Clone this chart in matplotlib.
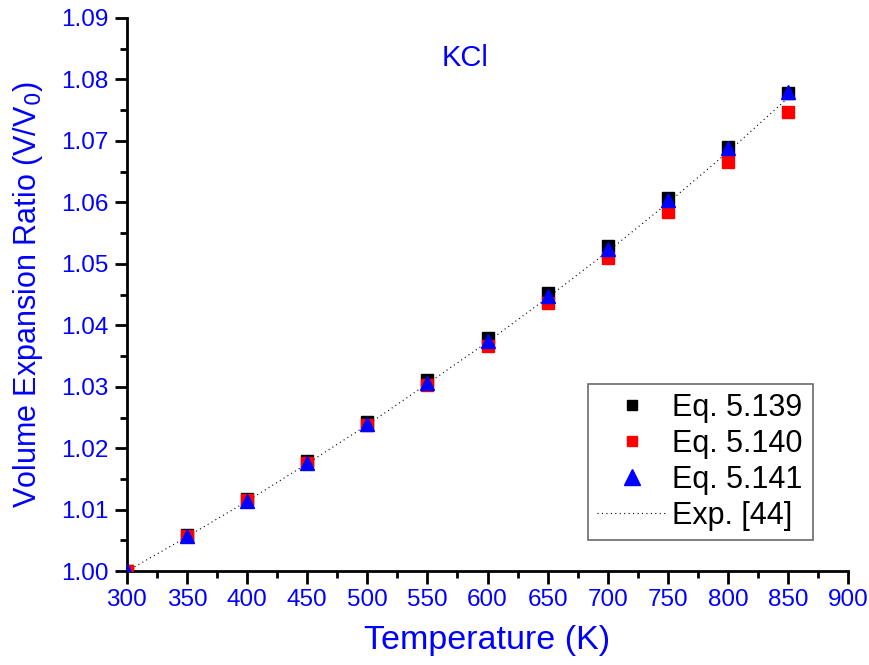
import matplotlib
matplotlib.use("Agg")
import matplotlib.pyplot as plt
from matplotlib.ticker import MultipleLocator, FormatStrFormatter

plt.rcParams["font.family"] = ["Liberation Sans", "DejaVu Sans"]

# values
temps = [300, 350, 400, 450, 500, 550, 600, 650, 700, 750, 800, 850]
eq139 = [1.0000, 1.0059, 1.0117, 1.0179, 1.0243, 1.0311, 1.0379, 1.0453,
         1.0529, 1.0607, 1.0690, 1.0778]
eq140 = [1.0000, 1.0058, 1.0116, 1.0176, 1.0238, 1.0303, 1.0367, 1.0437,
         1.0509, 1.0585, 1.0665, 1.0747]
eq141 = [1.0000, 1.0057, 1.0115, 1.0176, 1.0240, 1.0307, 1.0375, 1.0448,
         1.0524, 1.0604, 1.0689, 1.0780]
exp44 = [1.0000, 1.0056, 1.0114, 1.0175, 1.0238, 1.0305, 1.0373, 1.0445,
         1.0520, 1.0599, 1.0682, 1.0770]

blue = "#0000ff"

fig = plt.figure(figsize=(8.69, 6.65), dpi=100)
ax = fig.add_axes([0.146, 0.141, 0.830, 0.832])

ax.plot(temps, exp44, color="black", linestyle=(0, (1, 3)), linewidth=0.8,
        label="Exp. [44]", zorder=1)
ax.plot(temps, eq139, "s", color="black", markersize=8, label="Eq. 5.139", zorder=2)
ax.plot(temps, eq140, "s", color="#ff0000", markersize=8, label="Eq. 5.140", zorder=3)
ax.plot(temps, eq141, "^", color=blue, markersize=10.5, label="Eq. 5.141", zorder=4)

ax.set_xlim(300, 900)
ax.set_ylim(1.00, 1.09)
ax.xaxis.set_major_locator(MultipleLocator(50))
ax.xaxis.set_minor_locator(MultipleLocator(25))
ax.yaxis.set_major_locator(MultipleLocator(0.01))
ax.yaxis.set_minor_locator(MultipleLocator(0.005))
ax.yaxis.set_major_formatter(FormatStrFormatter("%.2f"))

for side in ("top", "right"):
    ax.spines[side].set_visible(False)
for side in ("left", "bottom"):
    ax.spines[side].set_linewidth(2)

ax.tick_params(which="major", direction="out", length=9, width=2,
               labelsize=17.5, labelcolor=blue, pad=4)
ax.tick_params(which="minor", direction="out", length=5, width=2)

ax.set_xlabel("Temperature (K)", fontsize=24.5, color=blue, labelpad=10)
ax.set_ylabel("Volume Expansion Ratio (V/V$_0$)", fontsize=22, color=blue, labelpad=12)
ax.text(581, 1.0835, "KCl", fontsize=21, color=blue, ha="center", va="center")

handles, labels = ax.get_legend_handles_labels()
order = [1, 2, 3, 0]
leg = ax.legend([handles[i] for i in order], [labels[i] for i in order],
                loc="lower left", bbox_to_anchor=(0.639, 0.056, 0.312, 0.284),
                mode="expand", fontsize=22, frameon=True, fancybox=False,
                edgecolor="#444444", handlelength=2.3, handletextpad=0.15,
                borderaxespad=0, labelspacing=0.2, borderpad=0.3)
leg.get_frame().set_linewidth(1.2)
leg.legend_handles[0].set_markersize(7)
leg.legend_handles[1].set_markersize(7)
leg.legend_handles[2].set_markersize(11)

fig.savefig("out.png", dpi=100)
